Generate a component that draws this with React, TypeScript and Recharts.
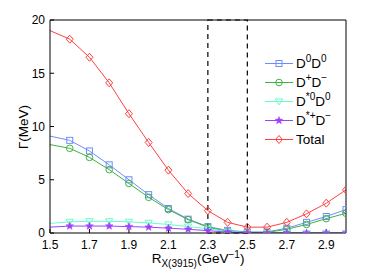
import { LineChart, Line, XAxis, YAxis, ReferenceArea } from 'recharts'

const rValues = [1.5, 1.6, 1.7, 1.8, 1.9, 2.0, 2.1, 2.2, 2.3, 2.4, 2.5, 2.6, 2.7, 2.8, 2.9, 3.0]
const total = [19.0, 18.2, 16.5, 14.1, 11.2, 8.5, 5.9, 3.7, 2.1, 1.0, 0.55, 0.55, 1.0, 1.8, 2.8, 4.05]
const d0d0 = [9.1, 8.7, 7.7, 6.4, 5.0, 3.6, 2.3, 1.3, 0.6, 0.25, 0.1, 0.1, 0.45, 1.0, 1.55, 2.2]
const dpdm = [8.3, 7.95, 7.1, 5.95, 4.65, 3.35, 2.2, 1.25, 0.55, 0.15, 0.02, 0.05, 0.35, 0.8, 1.35, 1.85]
const dst0d0 = [0.9, 1.05, 1.1, 1.1, 1.05, 0.95, 0.8, 0.6, 0.4, 0.12, 0.02, 0, 0, 0, 0, 0]
const dstpdm = [0.55, 0.65, 0.65, 0.65, 0.6, 0.55, 0.45, 0.35, 0.22, 0.08, 0.01, 0, 0, 0, 0, 0]

const xTicks = [1.5, 1.7, 1.9, 2.1, 2.3, 2.5, 2.7, 2.9]
const yTicks = [0, 5, 10, 15, 20]
const windowLo = 2.3
const windowHi = 2.5

// legend label pieces: [base, sup] pairs
const series = [
  { key: 'd0d0', color: '#6f8cff', marker: 'square', label: [['D', '0'], ['D', '0']] },
  { key: 'dpdm', color: '#3cb43c', marker: 'circle', label: [['D', '+'], ['D', '−']] },
  { key: 'dst0d0', color: '#66ffc4', marker: 'triangle', label: [['D', '*0'], ['D', '0']] },
  { key: 'dstpdm', color: '#a040ff', marker: 'star', label: [['D', '*+'], ['D', '−']] },
  { key: 'total', color: '#ff4040', marker: 'diamond', label: [['Total', '']] },
]

const data = rValues.map((r, i) => ({
  r,
  d0d0: d0d0[i],
  dpdm: dpdm[i],
  dst0d0: dst0d0[i],
  dstpdm: dstpdm[i],
  total: total[i],
}))

const FONT = '"Liberation Sans", Arial, sans-serif'

function Marker({ kind, cx, cy, color }: { kind: string; cx: number; cy: number; color: string }) {
  if (kind === 'square') return <rect x={cx - 3} y={cy - 3} width={6} height={6} fill="none" stroke={color} />
  if (kind === 'circle') return <circle cx={cx} cy={cy} r={3.3} fill="none" stroke={color} />
  if (kind === 'triangle')
    return <polygon points={`${cx - 3.6},${cy - 2.6} ${cx + 3.6},${cy - 2.6} ${cx},${cy + 3.4}`} fill="none" stroke={color} />
  if (kind === 'diamond')
    return <polygon points={`${cx},${cy - 4} ${cx + 3.5},${cy} ${cx},${cy + 4} ${cx - 3.5},${cy}`} fill="none" stroke={color} />
  const pts: string[] = []
  for (let k = 0; k < 10; k++) {
    const rad = k % 2 === 0 ? 4 : 1.7
    const a = -Math.PI / 2 + (k * Math.PI) / 5
    pts.push(`${cx + rad * Math.cos(a)},${cy + rad * Math.sin(a)}`)
  }
  return <polygon points={pts.join(' ')} fill={color} stroke={color} strokeWidth={0.5} />
}

const makeDot = (kind: string, color: string) => (props: any) => {
  const { cx, cy, index } = props
  if (index === 0 || cx == null || cy == null) return <g key={`d${index}`} />
  return <Marker key={`d${index}`} kind={kind} cx={cx} cy={cy} color={color} />
}

function LegendBox() {
  return (
    <div
      style={{
        position: 'absolute',
        left: 264,
        top: 54,
        fontFamily: FONT,
        fontSize: 13.5,
        color: '#000',
        lineHeight: '19px',
      }}
    >
      {series.map((s) => (
        <div key={s.key} style={{ display: 'flex', alignItems: 'center', height: 19 }}>
          <svg width={30} height={19} style={{ marginRight: 2 }}>
            <line x1={1} y1={9.5} x2={29} y2={9.5} stroke={s.color} />
            <Marker kind={s.marker} cx={15} cy={9.5} color={s.color} />
          </svg>
          <span style={{ whiteSpace: 'nowrap' }}>
            {s.label.map(([b, sup], j) => (
              <span key={j}>
                {b}
                {sup && <sup style={{ fontSize: 10, verticalAlign: '6px', lineHeight: 0 }}>{sup}</sup>}
              </span>
            ))}
          </span>
        </div>
      ))}
    </div>
  )
}

function XTitle(props: any) {
  const vb = props.viewBox || {}
  const cx = (vb.x ?? 50) + (vb.width ?? 296) / 2
  return (
    <text x={cx} y={263} textAnchor="middle" fontFamily={FONT} fontSize={13.5} fill="#000">
      R
      <tspan fontSize={10} dy={4}>X(3915)</tspan>
      <tspan dy={-4}>(GeV</tspan>
      <tspan fontSize={10} dy={-5}>−1</tspan>
      <tspan dy={5}>)</tspan>
    </text>
  )
}

function YTitle() {
  return (
    <text x={28} y={127} transform="rotate(-90 28 127)" textAnchor="middle" fontFamily={FONT} fontSize={13.5} fill="#000">
      Γ(MeV)
    </text>
  )
}

export default function App() {
  const tickStyle = { fontFamily: FONT, fontSize: 12, fill: '#000' }
  return (
    <div style={{ position: 'absolute', left: 0, top: 0, width: 382, height: 273, background: '#fff' }}>
      <LineChart width={382} height={273} data={data} margin={{ top: 0, right: 0, bottom: 0, left: 0 }}>
        <XAxis
          dataKey="r"
          type="number"
          domain={[1.5, 3.0]}
          ticks={xTicks}
          tickFormatter={(v: number) => v.toFixed(1)}
          allowDataOverflow
          height={40}
          tickSize={-4}
          tickMargin={11}
          tick={tickStyle}
          stroke="#000"
          label={<XTitle />}
        />
        <XAxis
          xAxisId="top"
          orientation="top"
          type="number"
          domain={[1.5, 3.0]}
          ticks={xTicks}
          allowDataOverflow
          height={20}
          tickSize={-4}
          tick={false}
          stroke="#000"
        />
        <YAxis
          type="number"
          domain={[0, 20]}
          ticks={yTicks}
          allowDataOverflow
          width={50}
          tickSize={-4}
          tickMargin={9}
          tick={tickStyle}
          stroke="#000"
          label={<YTitle />}
        />
        <YAxis
          yAxisId="right"
          orientation="right"
          type="number"
          domain={[0, 20]}
          ticks={yTicks}
          width={36}
          tickSize={-4}
          tick={false}
          stroke="#000"
        />
        {series.map((s) => (
          <Line
            key={s.key}
            type="linear"
            dataKey={s.key}
            stroke={s.color}
            strokeWidth={1}
            dot={makeDot(s.marker, s.color)}
            activeDot={false}
            isAnimationActive={false}
          />
        ))}
        <ReferenceArea
          x1={windowLo}
          x2={windowHi}
          y1={0}
          y2={20}
          fill="none"
          fillOpacity={0}
          stroke="#000"
          strokeWidth={1.2}
          strokeDasharray="5 4"
          ifOverflow="visible"
        />
      </LineChart>
      <LegendBox />
    </div>
  )
}
